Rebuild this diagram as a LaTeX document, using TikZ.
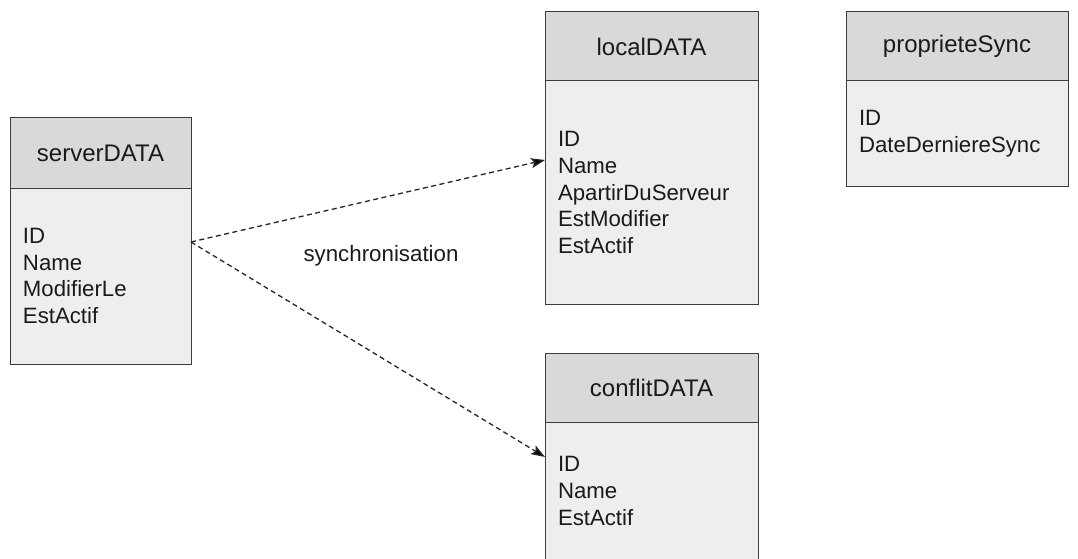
\documentclass[tikz,border=0pt]{standalone}
\usepackage{fontspec}
\setmainfont{Liberation Sans}
\usetikzlibrary{positioning,arrows.meta}
\definecolor{headgray}{HTML}{D9D9D9}
\definecolor{bodygray}{HTML}{EEEEEE}
\definecolor{edgegray}{HTML}{3C3C3C}
\definecolor{inkgray}{HTML}{1A1A1A}
\tikzset{
	tablehead/.style={draw=edgegray, fill=headgray, line width=1pt, outer sep=0pt,
		minimum height=70pt, text=inkgray, font=\fontsize{24}{28}\selectfont},
	tablebody/.style={draw=edgegray, fill=bodygray, line width=1pt, outer sep=0pt,
		align=left, inner xsep=13pt, text=inkgray, font=\fontsize{22.2}{26.7}\selectfont},
	syncline/.style={->, draw=black!85, line width=1.3pt, dash pattern=on 5pt off 3.5pt}
}

\begin{document}
\begin{tikzpicture}[x=1pt, y=1pt]
	\tikzset{>={Stealth[length=14pt, width=10pt, inset=3pt, fill=black]}}
	\useasboundingbox (0, 0) rectangle (1078, 558);

	\node[tablehead, minimum width=181pt] (serverHead) at (100.5, 405) {serverDATA};
	\node[tablebody, text width=155pt, minimum height=176pt, below=0pt of serverHead] (serverBody)
		{ID\\Name\\ModifierLe\\EstActif};

	\node[tablehead, minimum width=213pt, minimum height=69pt] (localHead) at (651.5, 511.5) {localDATA};
	\node[tablebody, text width=187pt, minimum height=223pt, below=0pt of localHead] (localBody)
		{ID\\Name\\ApartirDuServeur\\EstModifier\\EstActif};

	\node[tablehead, minimum width=222pt, minimum height=69pt] (syncHead) at (957, 511.5) {proprieteSync};
	\node[tablebody, text width=196pt, minimum height=105pt, below=0pt of syncHead] (syncBody)
		{ID\\DateDerniereSync};

	\node[tablehead, minimum width=213pt, minimum height=69pt] (conflitHead) at (651.5, 170.5) {conflitDATA};
	\node[tablebody, text width=187pt, minimum height=138pt, below=0pt of conflitHead] (conflitBody)
		{ID\\Name\\EstActif};

	\draw[syncline] ([yshift=34pt]serverBody.east) -- ([yshift=32.5pt]localBody.west);
	\draw[syncline] ([yshift=34pt]serverBody.east) -- ([yshift=34pt]conflitBody.west);
	\node[text=inkgray, font=\fontsize{22.3}{26}\selectfont] (syncLabel) at (381, 302) {synchronisation};
\end{tikzpicture}
\end{document}
